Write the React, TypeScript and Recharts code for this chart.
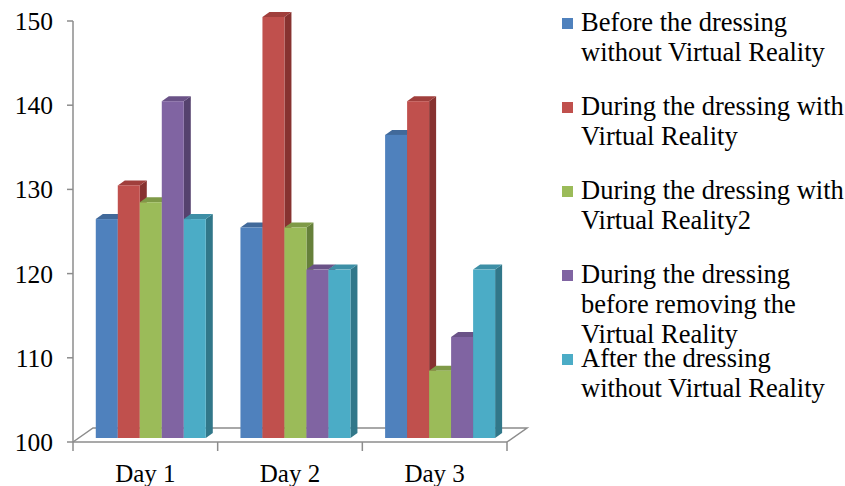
import React from "react";
import { BarChart, Bar, XAxis, YAxis, Customized } from "recharts";

const days = ["Day 1", "Day 2", "Day 3"];
const beforeNoVR = [126, 125, 136];
const duringVR = [130, 150, 140];
const duringVR2 = [128, 125, 108];
const beforeRemoving = [140, 120, 112];
const afterNoVR = [126, 120, 120];
const yTicks = [100, 110, 120, 130, 140, 150];

const series = [
  { key: "beforeNoVR", values: beforeNoVR, name: "Before the dressing without Virtual Reality", color: "#4F81BD", top: "#41699A", side: "#345479" },
  { key: "duringVR", values: duringVR, name: "During the dressing with Virtual Reality", color: "#C0504D", top: "#A03F3C", side: "#873230" },
  { key: "duringVR2", values: duringVR2, name: "During the dressing with Virtual Reality2", color: "#9BBB59", top: "#7F9A47", side: "#66803A" },
  { key: "beforeRemoving", values: beforeRemoving, name: "During the dressing before removing the Virtual Reality", color: "#8064A2", top: "#6A5287", side: "#55426E" },
  { key: "afterNoVR", values: afterNoVR, name: "After the dressing without Virtual Reality", color: "#4BACC6", top: "#3D8FA6", side: "#317789" },
];

const data = days.map((day, i) => {
  const row: Record<string, string | number> = { day };
  series.forEach(s => (row[s.key] = s.values[i]));
  return row;
});

const FONT = '"Liberation Serif", "Times New Roman", serif';
const W = 845;
const H = 486;
const LEFT = 73;
const TOP = 21;
const RIGHT = 507;
const BOTTOM = 442;
const AXIS = "#8c8c8c";

// 3D look: front face shifted into the floor, plus top and side faces
const OX = 6;
const OY = 4;
const DX = 7;
const DY = 5;

function Bar3D(props: any) {
  const { x, y, width, height, fill, top, side } = props;
  if (!height) return null;
  const fx = x + OX;
  const fy = y - OY;
  return (
    <g>
      <polygon points={`${fx + width},${fy} ${fx + width + DX},${fy - DY} ${fx + width + DX},${fy + height - DY} ${fx + width},${fy + height}`} fill={side} />
      <polygon points={`${fx},${fy} ${fx + DX},${fy - DY} ${fx + width + DX},${fy - DY} ${fx + width},${fy}`} fill={top} />
      <rect x={fx} y={fy} width={width} height={height} fill={fill} />
    </g>
  );
}

function Floor() {
  const band = (RIGHT - LEFT) / days.length;
  const ticks = [0, 1, 2, 3].map(i => LEFT + i * band);
  return (
    <g stroke={AXIS} strokeWidth={1.5} fill="none">
      <polyline points={`${LEFT},${BOTTOM} ${LEFT + 20},${BOTTOM - 14} ${RIGHT + 20},${BOTTOM - 14} ${RIGHT},${BOTTOM}`} />
      {ticks.map(t => (
        <line key={t} x1={t} y1={BOTTOM} x2={t} y2={BOTTOM + 9} />
      ))}
    </g>
  );
}

export default function App() {
  return (
    <div style={{ position: "absolute", left: 0, top: 0, width: W, height: H, background: "#fff", fontFamily: FONT }}>
      <style>{`.recharts-text, .recharts-cartesian-axis-tick-value { font-family: ${FONT}; }`}</style>
      <BarChart
        width={W}
        height={H}
        data={data}
        margin={{ top: TOP, right: W - RIGHT, left: 0, bottom: 0 }}
        barCategoryGap="11.6%"
        barGap={0}
        style={{ fontFamily: FONT }}
      >
        <Customized component={Floor} />
        <XAxis
          dataKey="day"
          height={H - BOTTOM}
          axisLine={{ stroke: AXIS, strokeWidth: 1.5 }}
          tickLine={false}
          tickSize={0}
          tickMargin={22}
          tick={{ fontSize: 25, fill: "#000" }}
        />
        <YAxis
          width={LEFT}
          domain={[100, 150]}
          ticks={yTicks}
          interval={0}
          axisLine={{ stroke: AXIS, strokeWidth: 1.5 }}
          tickLine={{ stroke: AXIS, strokeWidth: 1.5 }}
          tickSize={6}
          tickMargin={14}
          tick={{ fontSize: 25.5, fill: "#000" }}
        />
        {series.map(s => (
          <Bar
            key={s.key}
            dataKey={s.key}
            name={s.name}
            fill={s.color}
            isAnimationActive={false}
            shape={(p: any) => <Bar3D {...p} top={s.top} side={s.side} />}
          />
        ))}
      </BarChart>
      {series.map((s, i) => (
        <div
          key={s.key}
          style={{ position: "absolute", left: 562, top: 7 + i * 84, width: 283, display: "flex", alignItems: "flex-start" }}
        >
          <div style={{ width: 11, height: 11, background: s.color, marginTop: 11, flexShrink: 0 }} />
          <div style={{ marginLeft: 8, width: 264, fontSize: 26.5, lineHeight: "30px", color: "#000" }}>{s.name}</div>
        </div>
      ))}
    </div>
  );
}
